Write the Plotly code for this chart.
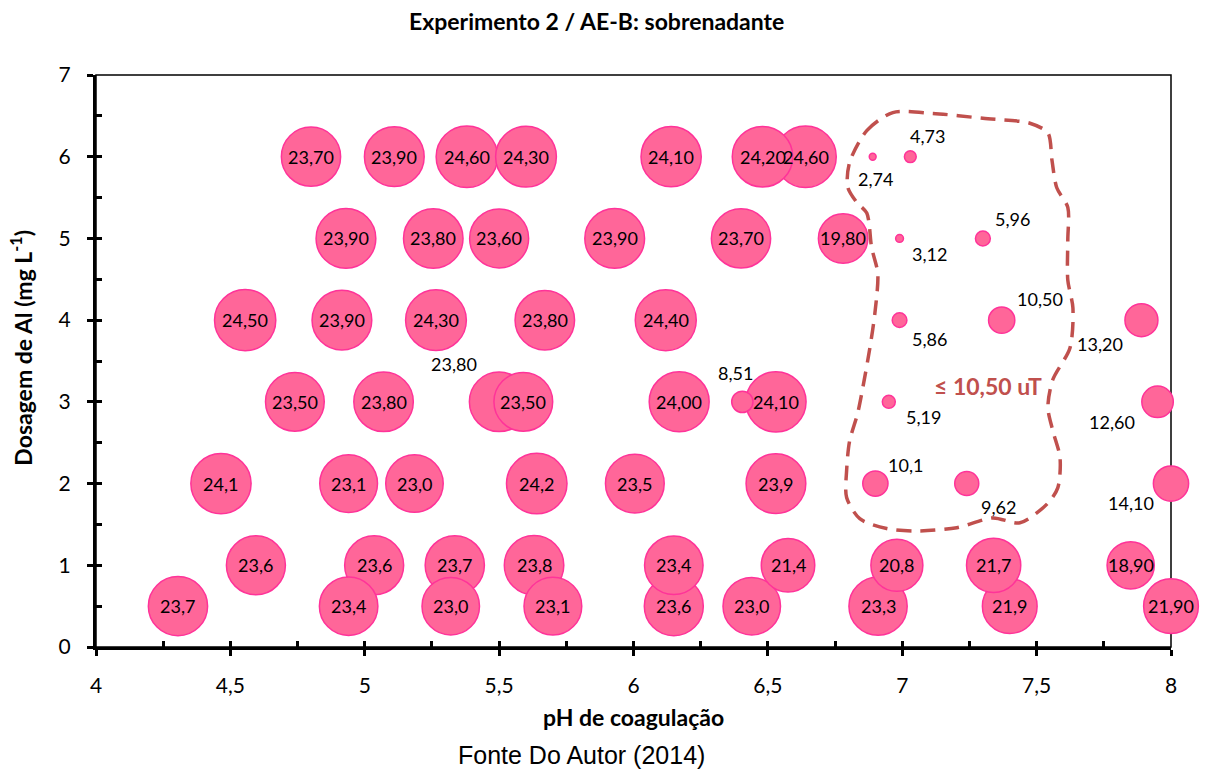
import plotly.graph_objects as go

# ---------------- data ----------------
ph = [
    4.80, 5.11, 5.38, 5.60, 6.14, 6.48, 6.64, 6.89, 7.03,
    4.93, 5.255, 5.50, 5.93, 6.40, 6.78, 6.99, 7.30,
    4.555, 4.915, 5.265, 5.67, 6.12, 6.99, 7.37, 7.89,
    4.74, 5.07, 5.50, 5.59, 6.17, 6.405, 6.53, 6.95, 7.95,
    4.465, 4.94, 5.185, 5.64, 6.005, 6.53, 6.90, 7.24, 8.00,
    4.595, 5.035, 5.335, 5.63, 6.15, 6.575, 6.98, 7.34, 7.85,
    4.305, 4.94, 5.32, 5.70, 6.15, 6.44, 6.91, 7.40, 8.00,
]
dose = (
    [6] * 9 + [5] * 8 + [4] * 8 + [3] * 9 + [2] * 9 + [1] * 9 + [0.5] * 9
)
turbidity = [
    23.70, 23.90, 24.60, 24.30, 24.10, 24.20, 24.60, 2.74, 4.73,
    23.90, 23.80, 23.60, 23.90, 23.70, 19.80, 3.12, 5.96,
    24.50, 23.90, 24.30, 23.80, 24.40, 5.86, 10.50, 13.20,
    23.50, 23.80, 23.80, 23.50, 24.00, 8.51, 24.10, 5.19, 12.60,
    24.1, 23.1, 23.0, 24.2, 23.5, 23.9, 10.1, 9.62, 14.10,
    23.6, 23.6, 23.7, 23.8, 23.4, 21.4, 20.8, 21.7, 18.90,
    23.7, 23.4, 23.0, 23.1, 23.6, 23.0, 23.3, 21.9, 21.90,
]
labels = [
    "23,70", "23,90", "24,60", "24,30", "24,10", "24,20", "24,60", "2,74", "4,73",
    "23,90", "23,80", "23,60", "23,90", "23,70", "19,80", "3,12", "5,96",
    "24,50", "23,90", "24,30", "23,80", "24,40", "5,86", "10,50", "13,20",
    "23,50", "23,80", "23,80", "23,50", "24,00", "8,51", "24,10", "5,19", "12,60",
    "24,1", "23,1", "23,0", "24,2", "23,5", "23,9", "10,1", "9,62", "14,10",
    "23,6", "23,6", "23,7", "23,8", "23,4", "21,4", "20,8", "21,7", "18,90",
    "23,7", "23,4", "23,0", "23,1", "23,6", "23,0", "23,3", "21,9", "21,90",
]

x_ticks = [4, 4.5, 5, 5.5, 6, 6.5, 7, 7.5, 8]
y_ticks = [0, 1, 2, 3, 4, 5, 6, 7]

# hand-drawn outline of the "<= 10,50 uT" region (annotation, pH / dose)
region_ph = [6.804, 6.868, 6.965, 7.114, 7.300, 7.475, 7.542, 7.557, 7.575,
             7.616, 7.616, 7.616, 7.635, 7.624, 7.560, 7.542, 7.560, 7.587,
             7.579, 7.542, 7.438, 7.337, 7.203, 7.054, 6.942, 6.842, 6.793,
             6.793, 6.804, 6.834, 6.853, 6.879, 6.898, 6.909, 6.886, 6.868,
             6.831, 6.797, 6.804]
region_dose = [5.93, 6.32, 6.54, 6.53, 6.47, 6.41, 6.29, 5.96, 5.62,
               5.38, 4.98, 4.49, 4.15, 3.66, 3.27, 2.93, 2.65, 2.32,
               1.95, 1.76, 1.52, 1.58, 1.46, 1.42, 1.45, 1.57, 1.83,
               2.16, 2.52, 2.86, 3.17, 3.65, 4.08, 4.57, 4.89, 5.31,
               5.44, 5.63, 5.93]

# ---------------- styling ----------------
# label pixel offsets (dx right, dy down) for labels not centred in bubble
label_offsets = {
    (6.89, 6): (3, 22), (7.03, 6): (17, -21),
    (6.99, 5): (30, 16), (7.30, 5): (30, -19),
    (6.99, 4): (30, 19), (7.37, 4): (38, -21), (7.89, 4): (-41, 24),
    (5.50, 3): (-45, -38), (6.405, 3): (-7, -29), (6.95, 3): (35, 15),
    (7.95, 3): (-46, 20),
    (6.90, 2): (30, -19), (7.24, 2): (32, 23), (8.00, 2): (-40, 19),
}

FONT = "Lato"
FILL = "#FF6699"
EDGE = "#FF3399"
RED = "#C0504D"

# draw bigger bubbles first so smaller ones stay visible
order = sorted(range(len(ph)), key=lambda i: -turbidity[i])

fig = go.Figure()
fig.add_trace(go.Scatter(
    x=[ph[i] for i in order],
    y=[dose[i] for i in order],
    mode="markers",
    marker=dict(size=[turbidity[i] for i in order], sizemode="diameter",
                sizeref=0.4, color=FILL, opacity=1,
                line=dict(color=EDGE, width=1.5)),
    cliponaxis=False,
    hoverinfo="skip",
    showlegend=False,
))

fig.add_trace(go.Scatter(
    x=region_ph, y=region_dose, mode="lines",
    line=dict(color=RED, width=3.5, dash="15px,9px", shape="spline", smoothing=0.8),
    xaxis="x2", yaxis="y2", hoverinfo="skip", showlegend=False,
))

annotations = []
for i in range(len(ph)):
    dx, dy = label_offsets.get((ph[i], dose[i]), (0, 0))
    annotations.append(dict(
        x=ph[i], y=dose[i], xref="x", yref="y", text=labels[i],
        showarrow=False, xshift=dx, yshift=-dy,
        xanchor="center", yanchor="middle",
        font=dict(family=FONT, size=18, color="#000000"),
    ))

annotations += [
    dict(x=7.32, y=3.2, xref="x", yref="y", text="<b>≤ 10,50 uT</b>",
         showarrow=False, xanchor="center", yanchor="middle",
         font=dict(family=FONT, size=23, color=RED)),
    dict(x=0.466, y=1.094, xref="paper", yref="paper",
         text="<b>Experimento 2 / AE-B: sobrenadante</b>", showarrow=False,
         xanchor="center", yanchor="middle",
         font=dict(family=FONT, size=23, color="#000000")),
    dict(x=0.5, y=-0.122, xref="paper", yref="paper",
         text="<b>pH de coagulação</b>", showarrow=False,
         xanchor="center", yanchor="middle",
         font=dict(family=FONT, size=23, color="#000000")),
    dict(x=-0.069, y=0.523, xref="paper", yref="paper", textangle=-90,
         text="<b>Dosagem de Al (mg L<sup>-1</sup>)</b>", showarrow=False,
         xanchor="center", yanchor="middle",
         font=dict(family=FONT, size=23, color="#000000")),
    dict(x=0.452, y=-0.189, xref="paper", yref="paper",
         text="Fonte Do Autor (2014)", showarrow=False,
         xanchor="center", yanchor="middle",
         font=dict(family="Liberation Sans", size=25, color="#000000")),
]

axis_common = dict(showgrid=False, zeroline=False, color="#000000")

fig.update_layout(
    width=1208, height=771,
    margin=dict(l=96, r=37, t=75, b=124),
    paper_bgcolor="white", plot_bgcolor="white",
    separators=",.",
    font=dict(family=FONT, size=21, color="#000000"),
    xaxis=dict(range=[4, 8], tickvals=x_ticks, ticks="outside", ticklen=6,
               tickwidth=2.5, tickcolor="#000000", showline=True, linewidth=3,
               linecolor="#000000", ticklabelstandoff=12,
               tickfont=dict(family=FONT, size=21), **axis_common),
    yaxis=dict(range=[0, 7], tickvals=y_ticks, ticks="outside", ticklen=6,
               tickwidth=2.5, tickcolor="#000000", showline=True, linewidth=3,
               linecolor="#000000", ticklabelstandoff=12,
               tickfont=dict(family=FONT, size=21), **axis_common),
    xaxis2=dict(range=[4, 8], overlaying="x", anchor="y2", dtick=0.25, tick0=0,
                ticks="inside", ticklen=6, tickwidth=2.5, tickcolor="#000000",
                showticklabels=False, showline=False, **axis_common),
    yaxis2=dict(range=[0, 7], overlaying="y", anchor="x2", dtick=0.5, tick0=0,
                ticks="inside", ticklen=6, tickwidth=2.5, tickcolor="#000000",
                showticklabels=False, showline=False, **axis_common),
    shapes=[dict(type="rect", xref="paper", yref="paper", x0=0, x1=1, y0=0, y1=1,
                 line=dict(color="#000000", width=1.5), layer="below")],
    annotations=annotations,
)

fig.write_html("out.html")
